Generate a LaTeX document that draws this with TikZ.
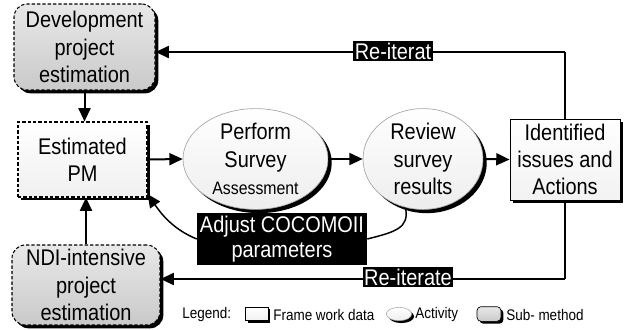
\documentclass[tikz,border=0pt]{standalone}
\usepackage{fontspec}
\setmainfont{Liberation Sans}
\newfontfamily\boxfont{Liberation Sans}[FakeStretch=0.88]
\usetikzlibrary{arrows.meta,shadows,shapes.geometric}
\begin{document}
\begin{tikzpicture}[x=0.75pt,y=-0.75pt,
  txt/.style={font=\boxfont\fontsize{17}{20.5}\selectfont, align=center, inner sep=0pt},
  blackshadow/.style={general shadow={fill=black, shadow xshift=#1, shadow yshift=-#1}},
  submethod/.style={txt, draw=black, line width=0.8pt, dash pattern=on 2.5pt off 1.5pt,
    rounded corners=10pt, top color=gray!18, bottom color=gray!42, blackshadow=2.5pt},
  framedata/.style={txt, draw=black, line width=0.8pt, dash pattern=on 2.5pt off 1.5pt,
    top color=white, bottom color=gray!12, blackshadow=2.2pt},
  activity/.style={txt, ellipse, draw=gray!70, line width=0.5pt,
    top color=white, bottom color=gray!14, blackshadow=2.8pt},
  plainbox/.style={txt, draw=black, line width=0.6pt, top color=white, bottom color=gray!10,
    blackshadow=2.4pt},
  lab/.style={fill=black, text=white, font=\boxfont\fontsize{17}{19}\selectfont, inner xsep=1pt, inner ysep=1.5pt},
  conn/.style={line width=1.5pt, -{Triangle[length=10pt,width=9pt]}},
  thinconn/.style={line width=1.1pt, -{Triangle[length=10pt,width=9pt]}},
  wire/.style={line width=1.5pt},
  legend/.style={font=\boxfont\fontsize{11.5}{13}\selectfont, inner sep=0pt, anchor=west}
]
\useasboundingbox (0,0) rectangle (624,329);

% nodes
\node[submethod, minimum width=105.75pt, minimum height=64.5pt] (dev) at (84.5,47) {Development\\project\\estimation};
\node[framedata, minimum width=96.75pt, minimum height=56.25pt] (pm) at (82.5,159.5) {Estimated\\PM};
\node[submethod, minimum width=111pt, minimum height=60pt] (ndi) at (86,285) {NDI-intensive\\project\\estimation};
\node[activity, minimum width=108.75pt, minimum height=69pt] (perf) at (255.5,159) {Perform\\Survey\\{\fontsize{13.5}{16}\selectfont Assessment}};
\node[activity, minimum width=90pt, minimum height=69pt] (rev) at (423,159) {Review\\survey\\results};
\node[plainbox, minimum width=82.5pt, minimum height=60.75pt] (id) at (565,159.5) {Identified\\issues and\\Actions};

% main flow
\draw[conn] (dev.south) -- (dev.south |- pm.north);
\draw[conn] (ndi.north) -- (ndi.north |- pm.south);
\draw[conn] (pm.east) -- (perf.west);
\draw[conn] (perf.east) -- (rev.west);
\draw[conn] (rev.east) -- (id.west);

% re-iterate loops
\coordinate (ty) at (0,52);
\coordinate (by) at (0,279);
\draw[wire] (id.north) -- (id.north |- ty) coordinate (tr);
\draw[conn] (tr) -- (dev.east |- ty);
\node[lab] (r1) at (393,51) {Re-iterat};
\draw[wire] (id.south) -- (id.south |- by) coordinate (br);
\draw[conn] (br) -- (ndi.east |- by);
\node[lab] (r2) at (408,277) {Re-iterate};

% adjust loop
\node[lab, align=center, minimum width=127.5pt, minimum height=39pt] (adj) at (282,239) {Adjust COCOMOII\\parameters};
\draw[line width=1.1pt] (rev.250) .. controls (410,228) and (395,232) .. (adj.east);
\draw[thinconn] (adj.west) .. controls (172,229) and (160,212) .. (pm.-28);

% legend
\node[legend] (lg) at (182,315) {Legend:};
\node[draw=black, line width=0.5pt, top color=white, bottom color=gray!12, blackshadow=1.6pt,
  minimum width=17pt, minimum height=10pt, inner sep=0pt] (l1) at (257,314) {};
\node[legend] (l1t) at (273,315) {Frame work data};
\node[ellipse, draw=gray!70, line width=0.4pt, top color=white, bottom color=gray!14, blackshadow=1.8pt,
  minimum width=19pt, minimum height=10pt, inner sep=0pt] (l2) at (399,314) {};
\node[legend] (l2t) at (415,315) {Activity};
\node[draw=black, line width=0.5pt, rounded corners=3pt, top color=gray!18, bottom color=gray!42, blackshadow=1.8pt,
  minimum width=18pt, minimum height=11pt, inner sep=0pt] (l3) at (489,314) {};
\node[legend] (l3t) at (506,315) {Sub- method};
\end{tikzpicture}
\end{document}
